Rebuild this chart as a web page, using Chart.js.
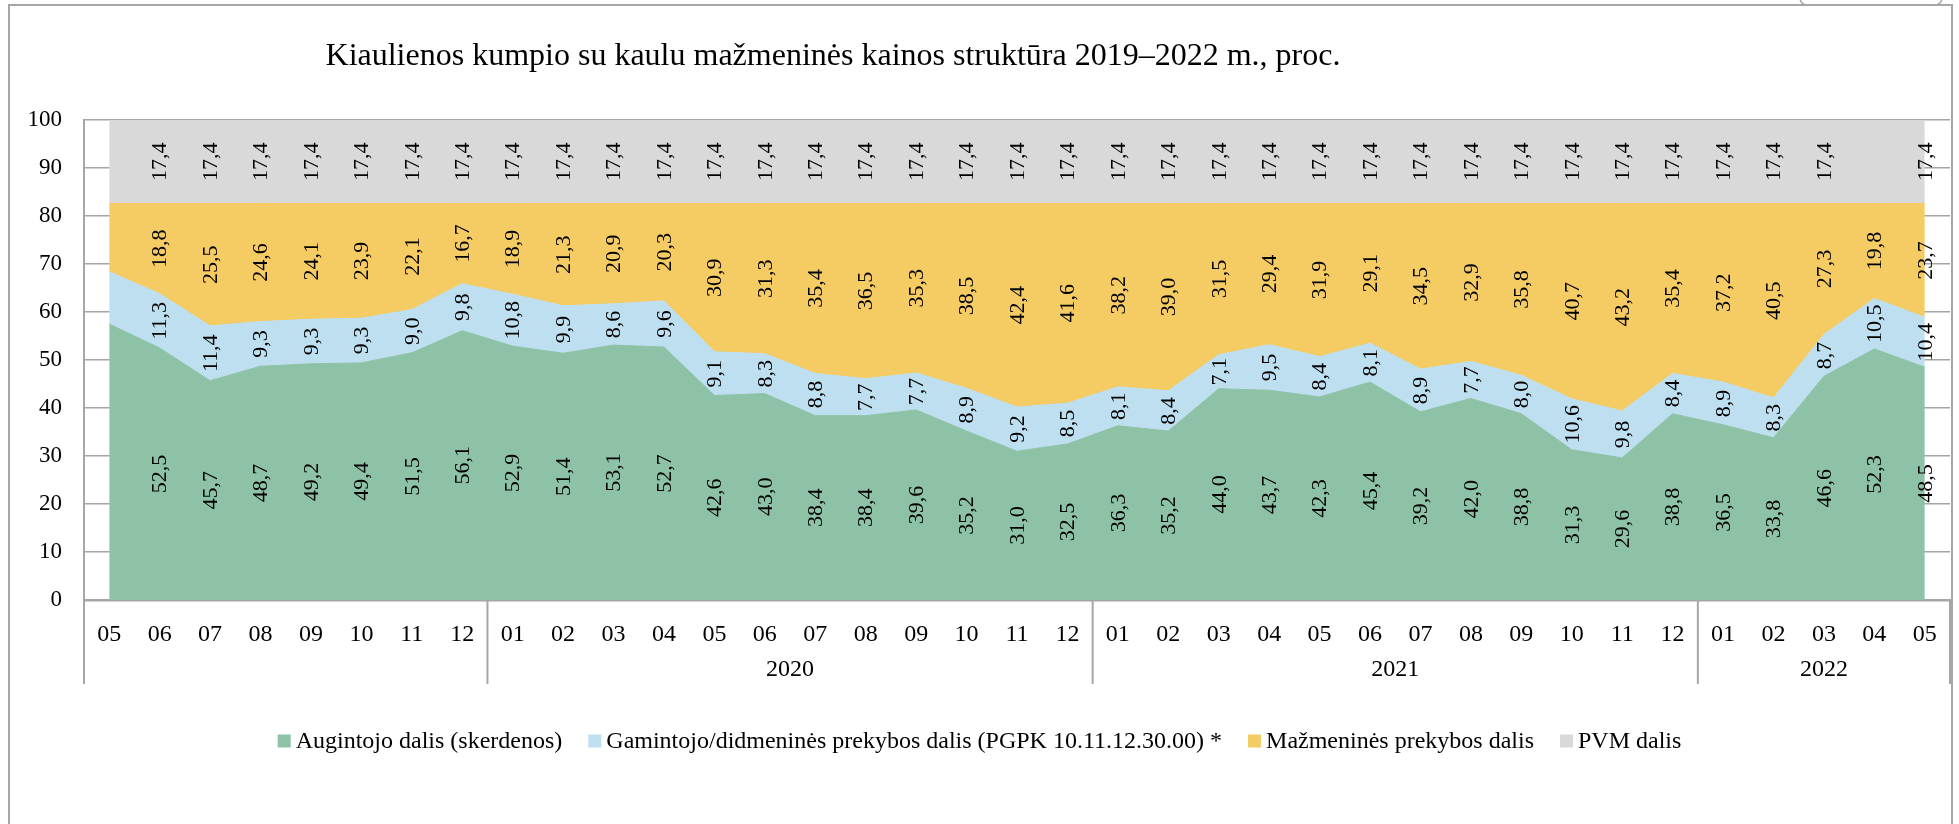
<!DOCTYPE html>
<html>
<head>
<meta charset="utf-8">
<script src="https://cdn.jsdelivr.net/npm/chart.js@4.4.1/dist/chart.umd.min.js"></script>
<style>
  html, body { margin: 0; padding: 0; background: #fff; }
</style>
</head>
<body>
<canvas id="myChart" width="1959" height="824"></canvas>
<script>
'use strict';

const months = [
  '05', '06', '07', '08', '09', '10', '11', '12',
  '01', '02', '03', '04', '05', '06', '07', '08', '09', '10', '11', '12',
  '01', '02', '03', '04', '05', '06', '07', '08', '09', '10', '11', '12',
  '01', '02', '03', '04', '05',
];
const yearLabels = ['', '2020', '2021', '2022'];
const yearSizes = [8, 12, 12, 5];

const augintojas = [57.5, 52.5, 45.7, 48.7, 49.2, 49.4, 51.5, 56.1, 52.9, 51.4, 53.1, 52.7, 42.6, 43.0, 38.4, 38.4, 39.6, 35.2, 31.0, 32.5, 36.3, 35.2, 44.0, 43.7, 42.3, 45.4, 39.2, 42.0, 38.8, 31.3, 29.6, 38.8, 36.5, 33.8, 46.6, 52.3, 48.5];
const gamintojas = [10.9, 11.3, 11.4, 9.3, 9.3, 9.3, 9.0, 9.8, 10.8, 9.9, 8.6, 9.6, 9.1, 8.3, 8.8, 7.7, 7.7, 8.9, 9.2, 8.5, 8.1, 8.4, 7.1, 9.5, 8.4, 8.1, 8.9, 7.7, 8.0, 10.6, 9.8, 8.4, 8.9, 8.3, 8.7, 10.5, 10.4];
const mazmenine = [14.2, 18.8, 25.5, 24.6, 24.1, 23.9, 22.1, 16.7, 18.9, 21.3, 20.9, 20.3, 30.9, 31.3, 35.4, 36.5, 35.3, 38.5, 42.4, 41.6, 38.2, 39.0, 31.5, 29.4, 31.9, 29.1, 34.5, 32.9, 35.8, 40.7, 43.2, 35.4, 37.2, 40.5, 27.3, 19.8, 23.7];
const pvm = [17.4, 17.4, 17.4, 17.4, 17.4, 17.4, 17.4, 17.4, 17.4, 17.4, 17.4, 17.4, 17.4, 17.4, 17.4, 17.4, 17.4, 17.4, 17.4, 17.4, 17.4, 17.4, 17.4, 17.4, 17.4, 17.4, 17.4, 17.4, 17.4, 17.4, 17.4, 17.4, 17.4, 17.4, 17.4, 17.4, 17.4];

const seriesNames = [
  'Augintojo dalis (skerdenos)',
  'Gamintojo/didmeninės prekybos dalis (PGPK 10.11.12.30.00) *',
  'Mažmeninės prekybos dalis',
  'PVM dalis',
];
const colors = ['#8ec2a6', '#bddff0', '#f5cb63', '#d9d9d9'];
// [series, point] pairs that have no value label in the original
const noLabel = [[0, 0], [1, 0], [2, 0], [3, 0], [3, 35]];

const title = 'Kiaulienos kumpio su kaulu mažmeninės kainos struktūra 2019–2022 m., proc.';
const serif = "'Liberation Serif', 'Times New Roman', serif";
const gray = '#a6a6a6';

Chart.defaults.font.family = serif;
Chart.defaults.color = '#000';

const fmt = (v) => v.toFixed(1).replace('.', ',');

// outer frame, title
const framePlugin = {
  id: 'frame',
  beforeDraw(chart) {
    const { ctx } = chart;
    ctx.save();
    ctx.fillStyle = '#fff';
    ctx.fillRect(0, 0, chart.width, chart.height);
    ctx.strokeStyle = gray;
    ctx.lineWidth = 2;
    ctx.strokeRect(9, 5, 1943, 900);
    ctx.lineWidth = 1.5;
    ctx.beginPath();
    ctx.roundRect(1800, -30, 142, 35, 7);
    ctx.stroke();
    ctx.fillStyle = '#000';
    ctx.font = '32px ' + serif;
    ctx.textAlign = 'center';
    ctx.textBaseline = 'middle';
    ctx.fillText(title, 833, 57);
    ctx.restore();
  },
};

// value labels in the middle of each band
const valueLabels = {
  id: 'valueLabels',
  afterDatasetsDraw(chart) {
    const { ctx } = chart;
    const x = chart.scales.x;
    const y = chart.scales.y;
    ctx.save();
    ctx.fillStyle = '#000';
    ctx.font = '22px ' + serif;
    ctx.textAlign = 'center';
    ctx.textBaseline = 'middle';
    const base = months.map(() => 0);
    chart.data.datasets.forEach((ds, s) => {
      ds.data.forEach((v, i) => {
        const mid = base[i] + v / 2;
        base[i] += v;
        if (noLabel.some(([a, b]) => a === s && b === i)) return;
        ctx.save();
        ctx.translate(x.getPixelForValue(i), y.getPixelForValue(mid));
        ctx.rotate(-Math.PI / 2);
        ctx.fillText(fmt(v), 0, 1);
        ctx.restore();
      });
    });
    ctx.restore();
  },
};

// year row with separators, and the legend
const yearsAndLegend = {
  id: 'yearsAndLegend',
  afterDraw(chart) {
    const { ctx, chartArea } = chart;
    const x = chart.scales.x;
    ctx.save();
    ctx.strokeStyle = gray;
    ctx.lineWidth = 2;
    ctx.fillStyle = '#000';
    ctx.font = '24px ' + serif;
    ctx.textAlign = 'center';
    ctx.textBaseline = 'middle';
    let start = 0;
    const edges = [chartArea.left];
    yearSizes.forEach((n, k) => {
      const end = start + n - 1;
      const right = end === months.length - 1
        ? chartArea.right
        : (x.getPixelForValue(end) + x.getPixelForValue(end + 1)) / 2;
      edges.push(right);
      if (yearLabels[k]) {
        ctx.fillText(yearLabels[k], (x.getPixelForValue(start) + x.getPixelForValue(end)) / 2, 670);
      }
      start += n;
    });
    edges.forEach((ex) => {
      ctx.beginPath();
      ctx.moveTo(ex, chartArea.bottom);
      ctx.lineTo(ex, 684);
      ctx.stroke();
    });

    // legend
    ctx.font = '24px ' + serif;
    ctx.textAlign = 'left';
    const box = 13, gap = 5, space = 26;
    const widths = seriesNames.map((t) => box + gap + ctx.measureText(t).width);
    const total = widths.reduce((a, b) => a + b, 0) + space * (widths.length - 1);
    let lx = (chart.width - total) / 2;
    const ly = 741;
    seriesNames.forEach((t, k) => {
      ctx.fillStyle = colors[k];
      ctx.fillRect(lx, ly - box / 2, box, box);
      ctx.fillStyle = '#000';
      ctx.fillText(t, lx + box + gap, ly + 1);
      lx += widths[k] + space;
    });
    ctx.restore();
  },
};

const ctx = document.getElementById('myChart');

new Chart(ctx, {
  type: 'line',
  data: {
    labels: months,
    datasets: [augintojas, gamintojas, mazmenine, pvm].map((d, k) => ({
      label: seriesNames[k],
      data: d,
      fill: k === 0 ? 'origin' : '-1',
      backgroundColor: colors[k],
      borderColor: colors[k],
      borderWidth: 1,
      pointRadius: 0,
      tension: 0,
    })),
  },
  options: {
    responsive: false,
    animation: false,
    layout: { padding: { top: 120, right: 9, left: 0, bottom: 0 } },
    plugins: {
      legend: { display: false },
      title: { display: false },
      tooltip: { enabled: false },
    },
    scales: {
      x: {
        offset: true,
        grid: { display: false },
        border: { color: gray, width: 2.5 },
        ticks: { autoSkip: false, maxRotation: 0, padding: 12, font: { size: 24 } },
        afterFit(scale) { scale.height = 224; },
      },
      y: {
        stacked: true,
        min: 0,
        max: 100,
        ticks: { stepSize: 10, padding: 22, font: { size: 23 } },
        grid: { color: gray, lineWidth: 1.5, drawTicks: false },
        border: { color: gray, width: 2 },
        afterFit(scale) { scale.width = 84; },
      },
    },
  },
  plugins: [framePlugin, valueLabels, yearsAndLegend],
});
</script>
</body>
</html>
